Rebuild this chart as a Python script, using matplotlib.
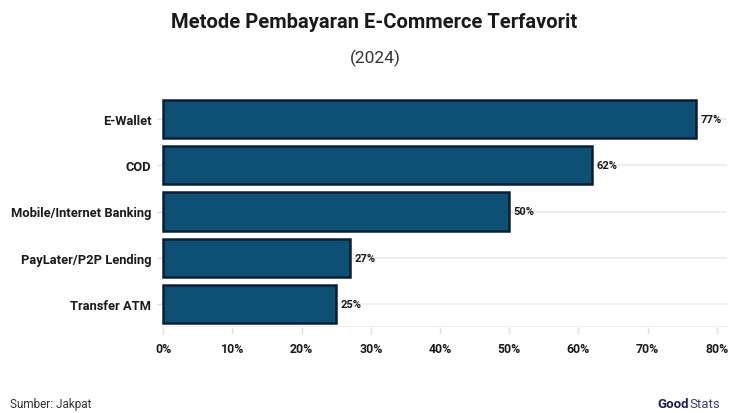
import matplotlib
matplotlib.use("Agg")
import matplotlib.pyplot as plt

categories = ["E-Wallet", "COD", "Mobile/Internet Banking", "PayLater/P2P Lending", "Transfer ATM"]
values = [77, 62, 50, 27, 25]
xticks = [0, 10, 20, 30, 40, 50, 60, 70, 80]
xticklabels = ["0%", "10%", "20%", "30%", "40%", "50%", "60%", "70%", "80%"]

plt.rcParams["font.family"] = ["Roboto", "DejaVu Sans"]

W, H = 735, 414
fig = plt.figure(figsize=(W / 100, H / 100), dpi=100)
fig.patch.set_facecolor("white")

left, right, top, bottom = 161, 727, 97, 328
ax = fig.add_axes([left / W, 1 - bottom / H, (right - left) / W, (bottom - top) / H])

ypos = list(range(len(categories)))
for y in ypos:
    ax.axhline(y, color="#ebebeb", lw=1.2, zorder=0)
ax.axhline(len(categories) - 0.5, color="#ebebeb", lw=1.2, zorder=0)

ax.barh(ypos, values, height=0.83, color="#0e5073", edgecolor="#0a1e38", linewidth=1.8, zorder=2)
for y, v in zip(ypos, values):
    ax.text(v + 0.6, y, f"{v}%", va="center", ha="left", fontsize=8, fontweight="bold", color="#1a1a1a")

ax.set_xlim(-0.3, 81.45)
ax.set_ylim(len(categories) - 0.5, -0.5)
ax.set_yticks(ypos)
ax.set_yticklabels(categories, fontsize=9.3, fontweight="bold", color="#1a1a1a")
ax.set_xticks(xticks)
ax.set_xticklabels(xticklabels, fontsize=8.8, fontweight="bold", color="#1a1a1a")
ax.tick_params(axis="x", length=5, color="#e0e0e0", width=1, pad=6)
ax.tick_params(axis="y", length=3, color="#e0e0e0", width=1, pad=4)
for s in ax.spines.values():
    s.set_visible(False)

fig.text(374 / W, 1 - 22 / H, "Metode Pembayaran E-Commerce Terfavorit", ha="center", va="center",
         fontsize=14.5, fontweight="bold", color="#1a1a1a")
fig.text(375 / W, 1 - 58 / H, "(2024)", ha="center", va="center", fontsize=12.5, color="#333333")
fig.text(10 / W, 1 - 405 / H, "Sumber: Jakpat", ha="left", va="center", fontsize=8.5, color="#333333")
fig.text(689 / W, 1 - 405 / H, "Good", ha="right", va="center", fontsize=9.5, fontweight="bold", color="#1b1d4f")
fig.text(689 / W, 1 - 405 / H, "Stats", ha="left", va="center", fontsize=9.5, color="#3a3d7a")

fig.savefig("out.png", dpi=100, facecolor="white")
